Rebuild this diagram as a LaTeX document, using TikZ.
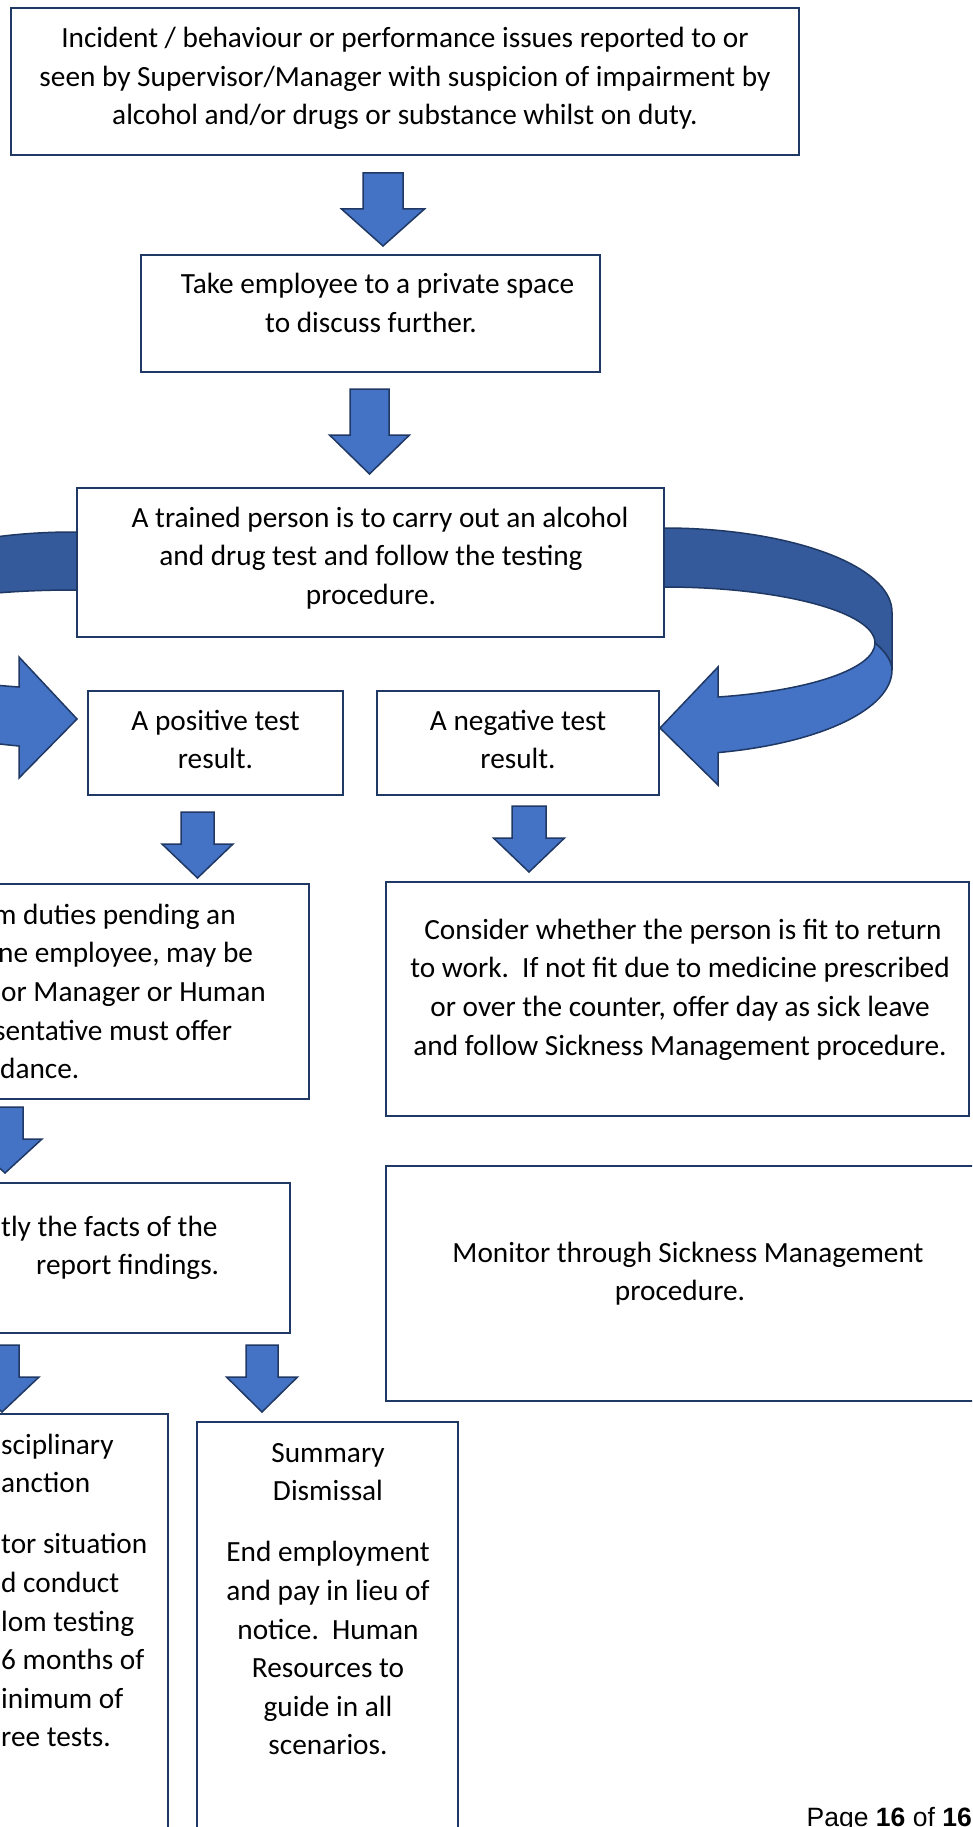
\documentclass[tikz,border=0pt]{standalone}
\usepackage{fontspec}
\setmainfont{Carlito}
\newfontfamily\footfont{Liberation Sans}
\definecolor{outl}{HTML}{1F3864}
\definecolor{lblue}{HTML}{4472C4}
\definecolor{dblue}{HTML}{345A9B}
\newcommand\fst{\rule{0pt}{27pt}}
\newcommand\mkbox[5]{\node[box, minimum width=#4pt, minimum height=#5pt] (#1) at (#2,#3) {};}
\newcommand\blockdown[6]{\path[barrow] (#1-#3,#2) -- (#1+#3,#2) -- (#1+#3,#5) -- (#1+#4,#5) -- (#1,#6) -- (#1-#4,#5) -- (#1-#3,#5) -- cycle;}
\tikzset{
  box/.style={draw=outl, line width=2pt, fill=white, rectangle, inner sep=0pt, outer sep=0pt, anchor=north west},
  txt/.style={inner sep=0pt, align=center, anchor=north, font=\fontsize{29.3}{38.6}\selectfont},
  txtl/.style={inner sep=0pt, align=left, anchor=north west, font=\fontsize{29.3}{38.6}\selectfont},
  barrow/.style={fill=lblue, draw=outl, line width=1.5pt, line join=miter},
  darkband/.style={fill=dblue, draw=outl, line width=1.5pt},
}
\begin{document}
\begin{tikzpicture}[x=1pt, y=-1pt]
\useasboundingbox (0,0) rectangle (972,1827);
\clip (0,0) rectangle (972,1827);
\fill[white] (0,0) rectangle (972,1827);

% curved arrow on the right
\path[darkband] (650,528) -- (664,528) .. controls (790,528) and (892,565.6) .. (892,612) -- (892,670)
  .. controls (892,662) and (886,652) .. (875,643) .. controls (875,612) and (780.5,587) .. (664,587) -- (650,587) -- cycle;
\path[barrow] (875,643) .. controls (886,652) and (892,662) .. (892,670) .. controls (892,709.2) and (820.1,743.3) .. (718,752.6)
  -- (718,785) -- (660,728) -- (718,667) -- (718,697) .. controls (810.6,690.7) and (875,668.4) .. (875,643) -- cycle;

% curved arrow on the left
\path[darkband] (95,532) -- (73,532) .. controls (-53,532) and (-155,569.6) .. (-155,616) -- (-155,662)
  .. controls (-155,654) and (-149,644) .. (-138,635) .. controls (-138,610) and (-43.5,590) .. (73,590) -- (95,590) -- cycle;
\path[barrow] (-138,635) .. controls (-149,644) and (-155,654) .. (-155,662) .. controls (-155,702) and (-83,737) .. (19,746)
  -- (19,778) -- (77,719) -- (19,657) -- (19,687) .. controls (-73.6,680.8) and (-138,659.4) .. (-138,635) -- cycle;

% boxes
\mkbox{top}{10.5}{8}{788}{147}
\mkbox{b2}{141}{255}{459}{117}
\mkbox{b3}{77}{488}{587}{149}
\mkbox{pos}{88}{691}{255}{104}
\mkbox{neg}{377}{691}{282}{104}
\mkbox{susp}{-200}{884}{509}{215}
\mkbox{cons}{386}{882}{583}{234}
\mkbox{inv}{-200}{1183}{490}{150}
\mkbox{mon}{386}{1166}{589}{235}
\mkbox{disc}{-200}{1414}{368}{500}
\mkbox{summ}{197}{1422}{261}{500}

% block arrows
\blockdown{383}{173}{20}{41.5}{209}{246}
\blockdown{369.5}{389}{19.5}{40}{435}{474}
\blockdown{197.5}{812}{16.5}{35.5}{844}{878}
\blockdown{529}{806}{17}{35.5}{838}{872}
\blockdown{5}{1107}{18}{37}{1139}{1173}
\blockdown{2}{1345}{17}{37}{1377}{1412}
\blockdown{262}{1345}{16}{35.5}{1377}{1412}

% texts
\node[txt] (ttop) at (405,20.5) {\fst Incident / behaviour or performance issues reported to or\\seen by Supervisor/Manager with suspicion of impairment by\\alcohol and/or drugs or substance whilst on duty.};
\node[txt] (tb2) at (371,266.5) {\fst\hspace*{13pt}Take employee to a private space\\to discuss further.};
\node[txt] (tb3) at (371,500) {\fst\hspace*{18pt}A trained person is to carry out an alcohol\\and drug test and follow the testing\\procedure.};
\node[txt] (tpos) at (215.5,703) {\fst A positive test\\result.};
\node[txt] (tneg) at (518,703) {\fst A negative test\\result.};
\node[txtl] (tsusp) at (0,897) {\fst\hspace*{-7pt}m duties pending an\\\hspace*{-2pt}ne employee, may be\\\hspace*{1pt}or Manager or Human\\\hspace*{-6pt}sentative must offer\\dance.};
\node[txt] (tcons) at (680,912) {\fst\hspace*{6pt}Consider whether the person is fit to return\\to work.\ \ If not fit due to medicine prescribed\\or over the counter, offer day as sick leave\\and follow Sickness Management procedure.};
\node[txtl] (tinv) at (0,1209) {\fst\hspace*{1pt}tly the facts of the\\\hspace*{36pt}report findings.};
\node[txt] (tmon) at (680,1235) {\fst\hspace*{16pt}Monitor through Sickness Management\\procedure.};
\node[txtl] (tdisc) at (1,1427) {\fst sciplinary\\anction\\[22.5pt]tor situation\\d conduct\\lom testing\\6 months of\\inimum of\\ree tests.};
\node[txt] (tsumm) at (328,1435) {\fst Summary\\Dismissal\\[22.5pt]End employment\\and pay in lieu of\\notice.\ \ Human\\Resources to\\guide in all\\scenarios.};
\node[anchor=base east, inner sep=0pt, font=\footfont\fontsize{26.5}{30}\selectfont] (page) at (972,1826) {Page \textbf{16} of \textbf{16}};
\end{tikzpicture}
\end{document}
